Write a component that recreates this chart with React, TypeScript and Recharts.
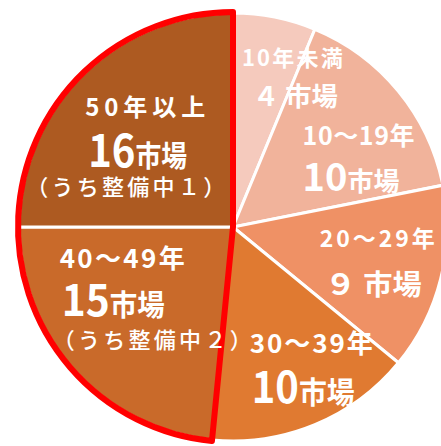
import React from 'react';
import { PieChart, Pie, Cell } from 'recharts';

// 経過年数別の市場数
const categories = ['10年未満', '10～19年', '20～29年', '30～39年', '40～49年', '50年以上'];
const marketCounts = [4, 10, 9, 10, 15, 16];
const underRepair = [0, 0, 0, 0, 2, 1];
const outlinedFrom = 4; // 40年以上を赤枠で囲む

const sliceColors = ['#F5CABD', '#F1B39B', '#EF9165', '#E07A31', '#C96A2A', '#AD5A21'];

const RADIAN = Math.PI / 180;
const FONT = "'Noto Sans CJK JP', 'Noto Sans', sans-serif";

const sum = (arr: number[]) => arr.reduce((a, b) => a + b, 0);
const zen = (n: number) => String.fromCharCode(0xff10 + n);

const pieData = categories.map((name, i) => ({ name, value: marketCounts[i] }));
const outlineData = [
  { name: 'under40', value: sum(marketCounts.slice(0, outlinedFrom)) },
  { name: 'over40', value: sum(marketCounts.slice(outlinedFrom)) },
];

type Box = { dx: number; dy: number; w: number };

// label placement relative to a point at 62% of the radius on each slice's mid angle
const nameBox: Box[] = [
  { dx: -17, dy: -31, w: 101 },
  { dx: -33, dy: 2, w: 112 },
  { dx: -42, dy: -12, w: 115 },
  { dx: -34, dy: 3, w: 123 },
  { dx: -75, dy: -48, w: 125 },
  { dx: -54, dy: -17, w: 120 },
];
const countBox: Box[] = [
  { dx: -6, dy: 9, w: 85 },
  { dx: -33, dy: 48, w: 97 },
  { dx: -37, dy: 36, w: 97 },
  { dx: -32, dy: 53, w: 103 },
  { dx: -73, dy: 0, w: 103 },
  { dx: -51, dy: 34, w: 99 },
];
const noteBox: Box[] = [
  { dx: 0, dy: 0, w: 0 },
  { dx: 0, dy: 0, w: 0 },
  { dx: 0, dy: 0, w: 0 },
  { dx: 0, dy: 0, w: 0 },
  { dx: -82, dy: 32, w: 199 },
  { dx: -113, dy: 62, w: 199 },
];
const nameSize = [22, 25, 23, 26, 26, 24];
const numSize = [26, 38, 30, 43, 43, 45];
const unitSize = [26, 26, 28, 30, 29, 29];

const renderLabel = (props: any) => {
  const { cx, cy, midAngle, outerRadius, index } = props;
  const r = outerRadius * 0.62;
  const ax = cx + r * Math.cos(-midAngle * RADIAN);
  const ay = cy + r * Math.sin(-midAngle * RADIAN);
  const count = marketCounts[index];
  const repair = underRepair[index];
  const nb = nameBox[index];
  const cb = countBox[index];
  const rb = noteBox[index];
  return (
    <g key={`label-${index}`} fill="#fff" fontFamily={FONT}>
      <text
        x={ax + nb.dx}
        y={ay + nb.dy}
        fontSize={nameSize[index]}
        fontWeight={700}
        textLength={nb.w}
        lengthAdjust="spacing"
      >
        {categories[index]}
      </text>
      <text
        x={ax + cb.dx}
        y={ay + cb.dy}
        fontWeight={700}
        textLength={cb.w}
        lengthAdjust="spacingAndGlyphs"
      >
        <tspan fontSize={numSize[index]}>{count < 10 ? zen(count) + ' ' : String(count)}</tspan>
        <tspan fontSize={unitSize[index]}>市場</tspan>
      </text>
      {repair > 0 && (
        <text
          x={ax + rb.dx}
          y={ay + rb.dy}
          fontSize={22}
          fontWeight={500}
          textLength={rb.w}
          lengthAdjust="spacing"
        >
          {`（うち整備中${zen(repair)}）`}
        </text>
      )}
    </g>
  );
};

export default function App() {
  return (
    <div style={{ position: 'absolute', left: 0, top: 0, width: 441, height: 446, background: '#fff' }}>
      <PieChart width={441} height={446} margin={{ top: 0, right: 0, bottom: 0, left: 0 }}>
        <Pie
          data={pieData}
          dataKey="value"
          cx={233}
          cy={227}
          outerRadius={214}
          startAngle={90}
          endAngle={-270}
          stroke="#fff"
          strokeWidth={3}
          isAnimationActive={false}
        >
          {pieData.map((d, i) => (
            <Cell key={d.name} fill={sliceColors[i]} />
          ))}
        </Pie>
        <Pie
          data={outlineData}
          dataKey="value"
          cx={233}
          cy={227}
          outerRadius={215}
          startAngle={90}
          endAngle={-270}
          isAnimationActive={false}
        >
          <Cell fill="none" stroke="none" />
          <Cell fill="none" stroke="#FF0000" strokeWidth={6} strokeLinejoin="round" />
        </Pie>
        <Pie
          data={pieData}
          dataKey="value"
          cx={233}
          cy={227}
          outerRadius={214}
          startAngle={90}
          endAngle={-270}
          fill="none"
          stroke="none"
          label={renderLabel}
          labelLine={false}
          isAnimationActive={false}
        >
          {pieData.map((d) => (
            <Cell key={d.name} fill="none" stroke="none" />
          ))}
        </Pie>
      </PieChart>
    </div>
  );
}
